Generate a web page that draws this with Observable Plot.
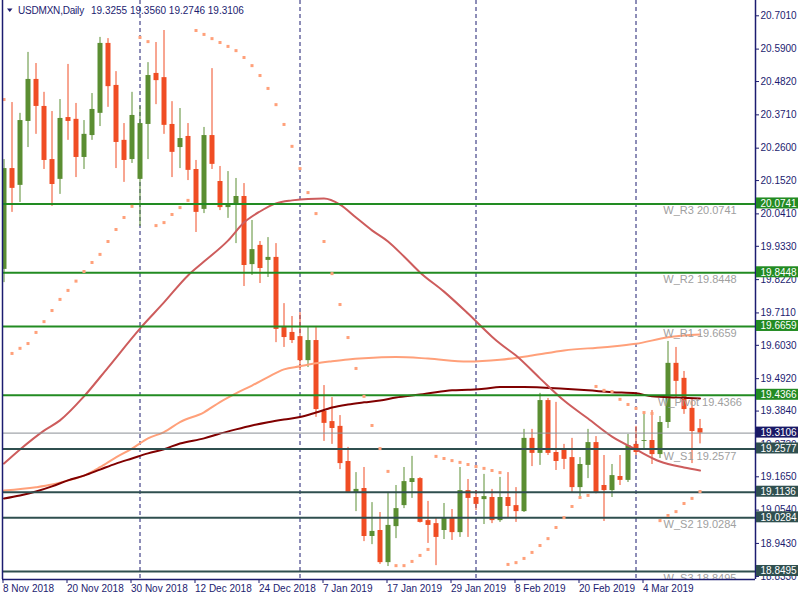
<!DOCTYPE html>
<html><head><meta charset="utf-8">
<script src="https://cdn.jsdelivr.net/npm/d3@7"></script>
<script src="https://cdn.jsdelivr.net/npm/@observablehq/plot@0.6"></script>
<style>
html,body{margin:0;padding:0;background:#fff;}
#chart svg{display:block;}
</style></head><body><div id="chart"></div>
<script>
const symbolName = "USDMXN,Daily";
const headerOHLC = ["19.3255", "19.3560", "19.2746", "19.3106"];

const opens = [19.856,20.192,20.136,20.349,20.489,20.399,20.222,20.156,20.362,20.356,
20.229,20.302,20.376,20.609,20.469,20.286,20.222,20.156,20.339,20.509,
20.495,20.339,20.262,20.299,20.189,20.056,20.302,20.149,20.062,20.069,
20.099,19.872,19.936,19.886,19.896,19.666,19.646,19.632,19.552,19.619,
19.383,19.349,19.333,19.216,19.113,19.126,18.966,18.986,18.879,18.999,
19.069,19.146,19.159,19.019,19.009,18.986,19.029,18.979,19.119,19.096,
19.089,19.096,19.019,19.096,19.069,19.049,19.293,19.243,19.419,19.246,
19.253,19.229,19.129,19.203,19.279,19.136,19.119,19.166,19.153,19.273,
19.283,19.286,19.239,19.346,19.543,19.493,19.393,19.3255];
const highs = [20.222,20.412,20.376,20.579,20.542,20.446,20.382,20.422,20.539,20.409,
20.352,20.442,20.629,20.625,20.515,20.342,20.446,20.399,20.545,20.612,
20.652,20.415,20.392,20.342,20.219,20.329,20.525,20.199,20.182,20.159,
20.142,20.019,19.949,19.962,19.942,19.742,19.699,19.712,19.662,19.666,
19.469,19.429,19.369,19.263,19.179,19.196,19.079,19.046,19.113,19.136,
19.196,19.233,19.162,19.083,19.026,19.076,19.056,19.196,19.156,19.119,
19.173,19.123,19.163,19.179,19.129,19.323,19.323,19.443,19.426,19.413,
19.273,19.293,19.229,19.323,19.299,19.236,19.206,19.236,19.306,19.333,
19.376,19.386,19.366,19.616,19.596,19.516,19.423,19.3560];
const lows = [19.812,20.046,20.079,20.262,20.306,20.189,20.066,20.106,20.286,20.162,
20.189,20.286,20.332,20.396,20.192,20.146,20.209,19.999,20.222,20.405,
20.306,20.162,20.192,20.152,19.979,20.042,20.189,20.052,20.026,19.942,
19.799,19.836,19.809,19.829,19.612,19.596,19.609,19.519,19.529,19.363,
19.283,19.273,19.189,19.110,19.049,18.949,18.939,18.873,18.866,18.959,
19.059,19.093,19.011,18.943,18.869,18.956,18.953,18.963,18.963,19.053,
19.006,19.009,19.013,19.029,19.013,19.046,19.199,19.203,19.236,19.186,
19.189,19.113,19.099,19.159,19.108,19.016,19.096,19.136,19.146,19.236,
19.259,19.206,19.226,19.326,19.429,19.373,19.209,19.2746];
const closes = [20.192,20.126,20.352,20.489,20.399,20.219,20.139,20.359,20.349,20.229,
20.306,20.389,20.609,20.465,20.279,20.219,20.369,20.342,20.502,20.485,
20.336,20.246,20.292,20.186,20.046,20.302,20.206,20.062,20.069,20.099,
19.869,19.922,19.859,19.896,19.656,19.629,19.619,19.552,19.619,19.389,
19.343,19.326,19.209,19.113,19.123,18.966,18.983,18.879,19.003,19.059,
19.149,19.159,19.013,19.003,18.963,19.029,18.979,19.119,19.093,19.073,
19.099,19.019,19.096,19.066,19.049,19.293,19.243,19.419,19.243,19.216,
19.223,19.129,19.206,19.279,19.113,19.119,19.169,19.153,19.269,19.246,
19.286,19.239,19.346,19.543,19.483,19.389,19.316,19.3106];

const sarValues = [20.422,19.576,19.593,19.609,19.646,19.682,19.719,19.756,19.786,19.817,
19.849,19.879,19.906,19.949,19.989,20.029,20.066,20.629,20.615,20.002,
20.012,20.039,20.062,20.086,20.652,20.639,20.625,20.612,20.599,20.585,
20.562,20.535,20.502,20.459,20.405,20.339,20.266,20.192,20.112,20.042,
19.949,19.842,19.739,19.629,19.526,19.433,19.336,19.259,19.183,18.869,
18.869,18.883,18.903,18.923,19.233,19.226,19.219,19.213,19.206,19.199,
19.193,19.186,19.179,18.873,18.879,18.893,18.913,18.936,18.959,18.996,
19.029,19.066,19.096,19.103,19.466,19.453,19.449,19.423,19.406,19.393,
19.379,19.376,19.019,19.036,19.049,19.076,19.093,19.116];

const maFastBars = [0,2,5,7,10,13,17,20,23,25,28,30,32,34,36,38,40,42,44,46,48,50,52,55,58,61,62,64,67,70,73,76,79,82,85,87];
const maFastVals = [19.209,19.256,19.319,19.353,19.433,19.529,19.659,19.746,19.836,19.882,19.952,20.012,20.049,20.076,20.086,20.091,20.092,20.072,20.029,19.986,19.949,19.899,19.846,19.782,19.709,19.632,19.609,19.569,19.493,19.419,19.359,19.299,19.256,19.216,19.196,19.186];

const maMidBars = [0,4,6,8,10,12,14,16,18,20,22,25,27,29,31,33,35,37,39,41,43,45,49,53,58,62,66,70,75,79,83,87];
const maMidVals = [19.119,19.130,19.139,19.153,19.169,19.197,19.230,19.259,19.293,19.314,19.347,19.380,19.414,19.443,19.469,19.497,19.523,19.533,19.543,19.550,19.556,19.560,19.564,19.559,19.549,19.555,19.569,19.586,19.597,19.608,19.630,19.639];

const maSlowBars = [0,2,4,6,8,10,12,14,16,18,20,22,25,27,29,31,33,35,37,39,41,43,45,47,49,52,54,56,58,60,62,65,70,73,76,79,81,84,87];
const maSlowVals = [19.093,19.103,19.116,19.133,19.153,19.169,19.189,19.209,19.226,19.243,19.257,19.276,19.293,19.309,19.323,19.336,19.347,19.356,19.364,19.379,19.396,19.406,19.413,19.419,19.429,19.439,19.447,19.453,19.455,19.458,19.464,19.464,19.458,19.453,19.447,19.443,19.433,19.429,19.426];

const levelNames = ["W_R3","W_R2","W_R1","W_Pivot","W_S1","","W_S2","W_S3"];
const levelValues = [20.0741,19.8448,19.6659,19.4366,19.2577,19.1136,19.0284,18.8495];
const levelKinds = ["resistance","resistance","resistance","resistance","support","support","support","support"];
const lastPrice = 19.3106;

const yTicks = [20.7010,20.5900,20.4820,20.3710,20.2600,20.1520,20.0410,19.9330,19.8220,19.7110,19.6030,19.4920,19.3840,19.2730,19.1650,19.0540,18.9430,18.8330];
const xTickBars = [0,8,16,24,32,40,48,56,64,72,80];
const xTickLabels = ["8 Nov 2018","20 Nov 2018","30 Nov 2018","12 Dec 2018","24 Dec 2018","7 Jan 2019","17 Jan 2019","29 Jan 2019","8 Feb 2019","20 Feb 2019","4 Mar 2019"];
const separatorBars = [17,37,59,79];

const BULL = "#5B8E32", BEAR = "#F04D24";
const NAVY = "#1C1C70";
const kindColor = {resistance: "#228B22", support: "#2F4F4F"};

const candles = opens.map((o, i) => ({i, open: o, high: highs[i], low: lows[i], close: closes[i]}));
const bulls = candles.filter(d => d.close >= d.open);
const bears = candles.filter(d => d.close < d.open);
const sar = sarValues.map((v, i) => ({i, v}));
const maFast = maFastBars.map((b, k) => ({i: b, v: maFastVals[k]}));
const maMid = maMidBars.map((b, k) => ({i: b, v: maMidVals[k]}));
const maSlow = maSlowBars.map((b, k) => ({i: b, v: maSlowVals[k]}));
const levels = levelValues.map((v, k) => ({name: levelNames[k], value: v, kind: levelKinds[k]}));
const lastBar = candles.length - 1;

const xDomain = [-0.1875, 93.9375];
const yDomain = [18.8228, 20.752];

const chart = Plot.plot({
  width: 800, height: 600,
  marginLeft: 2, marginRight: 45, marginTop: 0, marginBottom: 21,
  style: {fontFamily: "'Liberation Sans', Arial, sans-serif", fontSize: "10px", background: "#fff"},
  x: {type: "linear", domain: xDomain},
  y: {type: "linear", domain: yDomain},
  marks: [
    Plot.ruleX(separatorBars, {x: d => d, stroke: NAVY, strokeWidth: 1, strokeDasharray: "4,3"}),
    Plot.ruleX(bulls, {x: "i", y1: "low", y2: "high", stroke: BULL, strokeWidth: 1, clip: true}),
    Plot.ruleX(bears, {x: "i", y1: "low", y2: "high", stroke: BEAR, strokeWidth: 1, clip: true}),
    Plot.ruleX(bulls, {x: "i", y1: "open", y2: "close", stroke: BULL, strokeWidth: 5, clip: true}),
    Plot.ruleX(bears, {x: "i", y1: "open", y2: "close", stroke: BEAR, strokeWidth: 5, clip: true}),
    Plot.line(maMid, {x: "i", y: "v", stroke: "#FFA07A", strokeWidth: 2, curve: "monotone-x", clip: true}),
    Plot.line(maSlow, {x: "i", y: "v", stroke: "#800000", strokeWidth: 2, curve: "monotone-x", clip: true}),
    Plot.line(maFast, {x: "i", y: "v", stroke: "#CD5C5C", strokeWidth: 2, curve: "monotone-x", clip: true}),
    Plot.ruleY([lastPrice], {stroke: "#8A8F96", strokeWidth: 1}),
    Plot.ruleY(levels, {y: "value", stroke: d => kindColor[d.kind], strokeWidth: 2}),
    Plot.dot(sar, {x: "i", y: "v", symbol: "square", r: 1.7, fill: "#FFA07A", stroke: "none", clip: true}),
    Plot.text(levels.filter(d => d.name), {x: () => lastBar, y: "value", text: d => `${d.name} ${d.value.toFixed(4)}`, dy: 7, fill: "#A0A0A0", fontSize: 11, textAnchor: "middle", clip: true}),
    Plot.axisY({anchor: "right", ticks: yTicks, tickFormat: d => d.toFixed(4), tickSize: 3, tickPadding: 2, color: NAVY, label: null}),
    Plot.axisX({anchor: "bottom", ticks: xTickBars, tickFormat: d => xTickLabels[xTickBars.indexOf(d)], tickSize: 4, tickPadding: 1, textAnchor: "start", dx: -1, color: NAVY, label: null}),
    Plot.ruleX([xDomain[0]], {stroke: NAVY, strokeWidth: 1.5}),
    Plot.ruleX([xDomain[1]], {stroke: NAVY, strokeWidth: 1.5}),
    Plot.ruleY([yDomain[0]], {stroke: NAVY, strokeWidth: 1.5})
  ]
});

const svg = d3.select(chart);
const ys = chart.scale("y");
const xs = chart.scale("x");
const rightEdge = xs.apply(xDomain[1]);

// price boxes on the right axis
const boxes = levels.map(d => ({value: d.value, color: kindColor[d.kind]}));
boxes.push({value: lastPrice, color: "#191966"});
const gb = svg.append("g").attr("text-anchor", "start");
for (const b of boxes) {
  const Y = ys.apply(b.value);
  gb.append("rect").attr("x", rightEdge + 1).attr("y", Y - 6).attr("width", 42).attr("height", 11).attr("fill", b.color);
  gb.append("text").attr("x", rightEdge + 5.5).attr("y", Y).attr("dy", "0.35em")
    .attr("text-anchor", "start").attr("fill", "#fff").attr("font-size", 10).text(b.value.toFixed(4));
}

// header
const gh = svg.append("g").attr("fill", NAVY).attr("font-size", 10).attr("text-anchor", "start");
gh.append("path").attr("d", "M7,8.5 L12.5,8.5 L9.75,12 Z");
gh.append("text").attr("x", 18).attr("y", 10).attr("dy", "0.35em").attr("text-anchor", "start").attr("letter-spacing", "-0.2").text(symbolName);
gh.append("text").attr("x", 91).attr("y", 10).attr("dy", "0.35em").attr("text-anchor", "start").text(headerOHLC.join(" "));

document.getElementById("chart").appendChild(chart);
</script>
</body></html>
